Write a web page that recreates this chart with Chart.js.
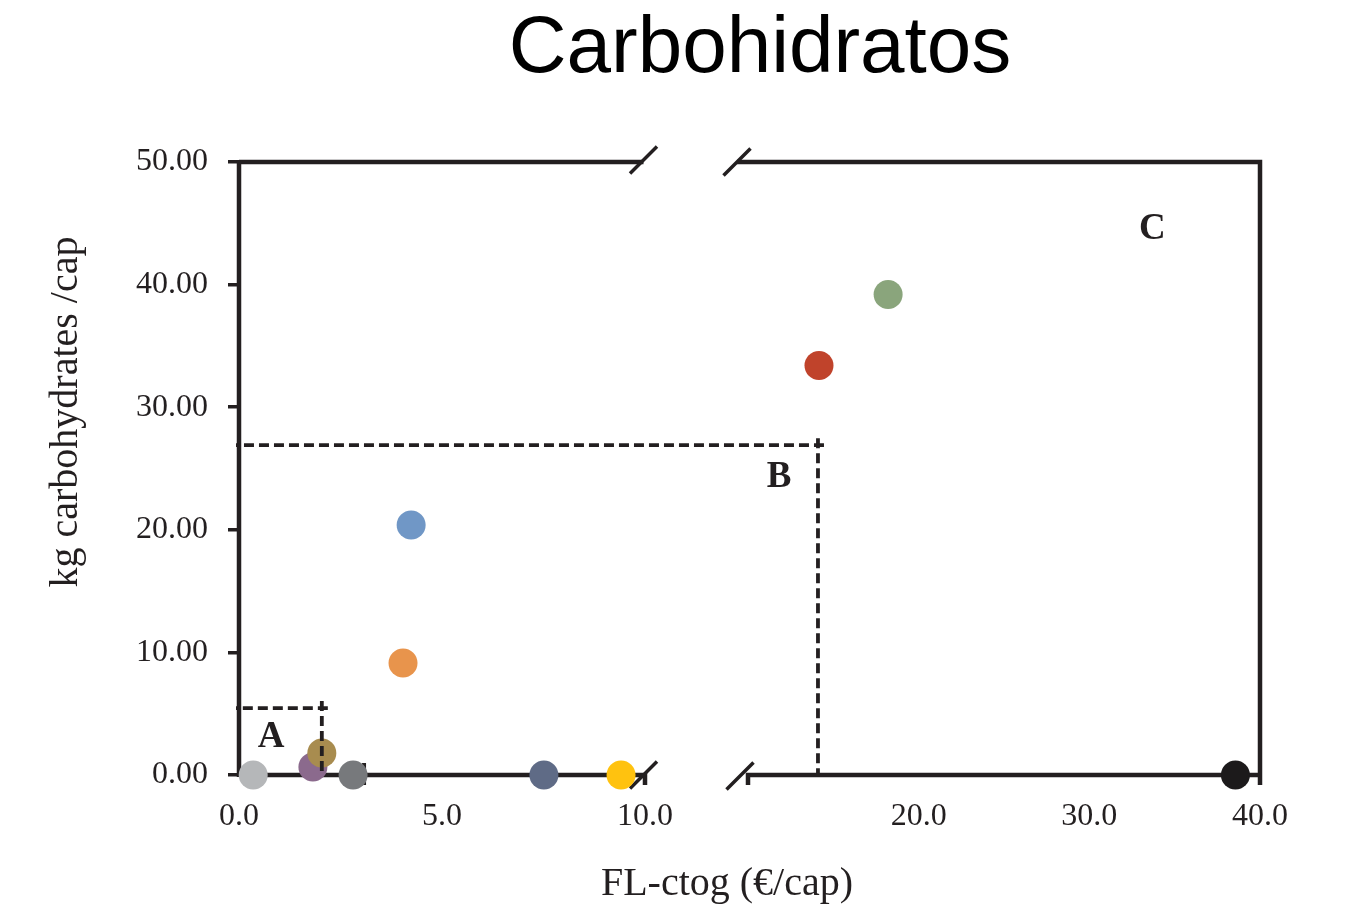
<!DOCTYPE html>
<html>
<head>
<meta charset="utf-8">
<title>Carbohidratos</title>
<script src="https://cdn.jsdelivr.net/npm/chart.js@4.4.0/dist/chart.umd.min.js"></script>
<style>
  html, body { margin: 0; padding: 0; background: #fff; }
  #wrap { width: 1349px; height: 913px; position: relative; }
</style>
</head>
<body>
<div id="wrap"><canvas id="carbChart"></canvas></div>
<script>
// Food loss cost (FL-ctog) against carbohydrates lost, per capita.
// The x axis is broken: 0-10 on the left part, 10-40 on the right part.
const leftX = [0.35, 1.82, 2.04, 2.81, 4.04, 4.24, 7.51, 9.41];
const leftY = [0.00, 0.65, 1.80, 0.00, 9.14, 20.40, 0.00, 0.00];
const leftColors = ['#b5b7b9', '#8b6a8d', '#a88c4f', '#77797c', '#e8944c', '#7097c6', '#5f6b86', '#ffc20f'];

const rightX = [14.16, 18.21, 38.56];
const rightY = [33.40, 39.20, 0.00];
const rightColors = ['#c0432b', '#8aa57c', '#1c1a1b'];

const leftTicks = [0, 5, 10];
const rightTicks = [20, 30, 40];
const yTicks = [0, 10, 20, 30, 40, 50];

// Threshold corners of the dashed boxes A and B
const boxA = { x: 2.04, y: 5.46 };
const boxB = { x: 14.1, y: 26.9 };
const regionLabels = [
    { text: 'A', axis: 'x', x: 0.79, y: 3.1 },
    { text: 'B', axis: 'x2', x: 11.82, y: 24.3 },
    { text: 'C', axis: 'x2', x: 33.7, y: 44.5 }
];

const INK = '#231f20';
const SERIF = '"Liberation Serif", "Times New Roman", serif';

// Frame with the axis break marks, drawn under the points
const brokenFrame = {
    id: 'brokenFrame',
    beforeDatasetsDraw(chart) {
        const { ctx, chartArea: { top, bottom, left, right }, scales: { x, x2 } } = chart;
        const leftEnd = x.getPixelForValue(10);
        const rightStart = x2.getPixelForValue(10);
        const breakL = leftEnd - 1.5;
        const breakR = rightStart - 11;

        ctx.save();
        ctx.strokeStyle = INK;
        ctx.lineWidth = 4.5;
        ctx.lineJoin = 'miter';
        ctx.beginPath();
        // y axis
        ctx.moveTo(left, top - 2);
        ctx.lineTo(left, bottom + 2);
        // top edge, left part
        ctx.moveTo(left, top);
        ctx.lineTo(breakL, top);
        // top edge right part + right border + end tick
        ctx.moveTo(breakR, top);
        ctx.lineTo(right, top);
        ctx.lineTo(right, bottom + 10);
        // bottom axis, left part with end tick
        ctx.moveTo(left, bottom);
        ctx.lineTo(leftEnd, bottom);
        ctx.lineTo(leftEnd, bottom + 10);
        // bottom axis, right part with start tick
        ctx.moveTo(rightStart, bottom + 10);
        ctx.lineTo(rightStart, bottom);
        ctx.lineTo(right, bottom);
        ctx.stroke();

        // break slashes
        ctx.lineWidth = 3.5;
        ctx.beginPath();
        [[breakL, top - 2], [breakR, top], [breakL, bottom], [breakR + 3, bottom + 1]].forEach(([cx, cy]) => {
            ctx.moveTo(cx - 13.5, cy + 13.5);
            ctx.lineTo(cx + 13.5, cy - 13.5);
        });
        ctx.stroke();

        // short mark on the axis next to box A
        const mx = x.getPixelForValue(3.08);
        ctx.lineWidth = 4;
        ctx.beginPath();
        ctx.moveTo(mx, bottom - 12);
        ctx.lineTo(mx, bottom + 10);
        ctx.stroke();
        ctx.restore();
    }
};

// Dashed boxes A and B, drawn over the points
const dashedBoxes = {
    id: 'dashedBoxes',
    afterDatasetsDraw(chart) {
        const { ctx, chartArea: { bottom, left }, scales: { x, x2, y } } = chart;
        ctx.save();
        ctx.strokeStyle = INK;
        ctx.lineWidth = 3.8;
        ctx.setLineDash([10, 5]);

        const drawBox = (px, py) => {
            ctx.beginPath();
            ctx.moveTo(px + 6, py);
            ctx.lineTo(left - 3, py);
            ctx.stroke();
            ctx.beginPath();
            ctx.moveTo(px, py - 7);
            ctx.lineTo(px, bottom);
            ctx.stroke();
        };
        drawBox(x.getPixelForValue(boxA.x), y.getPixelForValue(boxA.y));
        drawBox(x2.getPixelForValue(boxB.x), y.getPixelForValue(boxB.y));
        ctx.restore();
    }
};

// Title, axis titles and region letters
const chartTexts = {
    id: 'chartTexts',
    afterDraw(chart) {
        const { ctx, scales } = chart;
        ctx.save();
        ctx.fillStyle = '#000';
        ctx.textAlign = 'center';
        ctx.textBaseline = 'middle';

        ctx.font = '80px "Liberation Sans", Arial, sans-serif';
        ctx.fillText('Carbohidratos', 760, 50);

        ctx.fillStyle = INK;
        ctx.font = '40px ' + SERIF;
        ctx.fillText('FL-ctog (€/cap)', 727, 884);

        ctx.save();
        ctx.translate(66, 412);
        ctx.rotate(-Math.PI / 2);
        ctx.fillText('kg carbohydrates /cap', 0, 0);
        ctx.restore();

        ctx.font = 'bold 37px ' + SERIF;
        regionLabels.forEach(l => {
            ctx.fillText(l.text, scales[l.axis].getPixelForValue(l.x), scales.y.getPixelForValue(l.y));
        });
        ctx.restore();
    }
};

const tickFont = { family: SERIF, size: 32 };

const ctx = document.getElementById('carbChart').getContext('2d');
window.carbChartInstance = new Chart(ctx, {
    type: 'scatter',
    data: {
        datasets: [{
            label: 'FL-ctog 0-10',
            xAxisID: 'x',
            data: leftX.map((v, i) => ({ x: v, y: leftY[i] })),
            backgroundColor: leftColors,
            borderWidth: 0,
            pointRadius: 14.5,
            clip: false
        }, {
            label: 'FL-ctog 10-40',
            xAxisID: 'x2',
            data: rightX.map((v, i) => ({ x: v, y: rightY[i] })),
            backgroundColor: rightColors,
            borderWidth: 0,
            pointRadius: 14.5,
            clip: false
        }]
    },
    options: {
        responsive: true,
        maintainAspectRatio: false,
        animation: false,
        layout: { padding: { top: 162, right: 89, left: 0, bottom: 0 } },
        scales: {
            x: {
                type: 'linear',
                position: 'bottom',
                stack: 'fl',
                stackWeight: 509,
                min: 0,
                max: 12.537,
                afterBuildTicks: s => { s.ticks = leftTicks.map(v => ({ value: v })); },
                afterFit: s => { s.height = 138; },
                grid: { display: false },
                border: { display: false },
                ticks: { font: tickFont, color: INK, padding: 14, callback: v => v.toFixed(1) }
            },
            x2: {
                type: 'linear',
                position: 'bottom',
                stack: 'fl',
                stackWeight: 512,
                min: 10,
                max: 40,
                afterBuildTicks: s => { s.ticks = rightTicks.map(v => ({ value: v })); },
                afterFit: s => { s.height = 138; },
                grid: { display: false },
                border: { display: false },
                ticks: { font: tickFont, color: INK, padding: 14, callback: v => v.toFixed(1) }
            },
            y: {
                type: 'linear',
                position: 'left',
                min: 0,
                max: 50,
                afterBuildTicks: s => { s.ticks = yTicks.map(v => ({ value: v })); },
                afterFit: s => { s.width = 239; },
                grid: {
                    drawOnChartArea: false,
                    drawTicks: true,
                    tickLength: 11,
                    tickColor: INK,
                    lineWidth: 3.5
                },
                border: { display: false },
                ticks: { font: tickFont, color: INK, padding: 20, callback: v => v.toFixed(2) }
            }
        },
        plugins: {
            legend: { display: false },
            tooltip: { enabled: false },
            title: { display: false }
        }
    },
    plugins: [brokenFrame, dashedBoxes, chartTexts]
});
</script>
</body>
</html>
